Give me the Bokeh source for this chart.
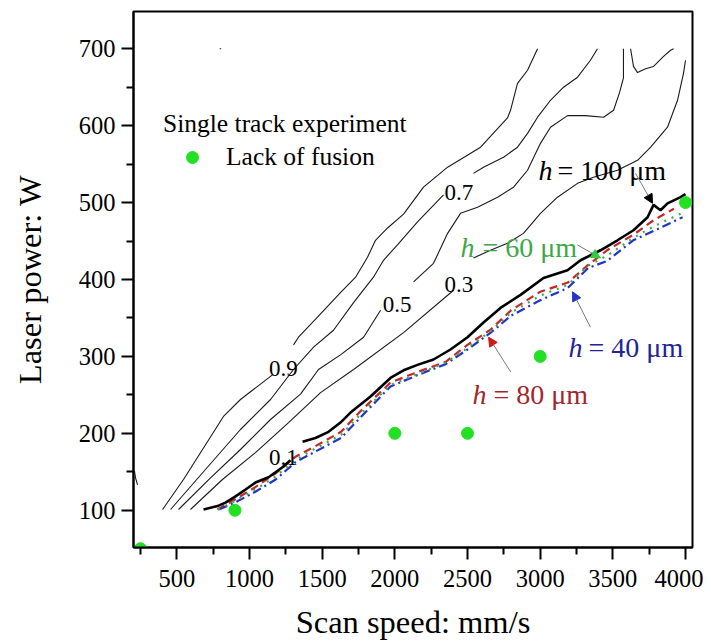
import math
from bokeh.plotting import figure
from bokeh.models import (Range1d, Legend, LegendItem, Arrow, NormalHead,
                          FixedTicker, ColumnDataSource)
from bokeh.core.properties import value
from bokeh.embed import file_html
from bokeh.resources import INLINE

NaN = float("nan")
FONT = "Liberation Serif"

# ---------------- data ----------------
# single-track experiments: lack of fusion
lof_speed = [250, 900, 2000, 2500, 3000, 4000]
lof_power = [50, 100, 200, 200, 300, 500]

# thin contour lines (value labels 0.9, 0.7, 0.5, 0.3)
c09_speed = [402, 546, 821, 938, 1158, NaN, 1303, 1337, 1468, 1626, 1730, 1812, 1867,
             1950, 2060, 2197, 2363, 2590, 2775, 2796, 2844, 2913, 2982]
c09_power = [101, 140, 222, 244, 276, NaN, 315, 325, 351, 383, 403, 429, 451,
             467, 485, 520, 546, 572, 610, 620, 655, 672, 700]

c07_speed = [457, 697, 938, 1145, 1303, 1441, 1578, 1716, 1853, 1922, 2018, 2156, 2335,
             NaN, 2541, 2610, 2748, 2844, 2913, 2982, 3071, 3161, 3257, 3346, 3394]
c07_power = [101, 153, 205, 244, 283, 312, 334, 370, 403, 425, 445, 475, 510,
             NaN, 538, 546, 559, 572, 590, 611, 633, 650, 663, 685, 700]

c05_speed = [512, 732, 938, 1145, 1351, 1475, 1626, 1785, 1902, NaN, 2129, 2266, 2363,
             2452, 2569, 2707, 2817, 2913, 3002, 3071, 3188, 3312, 3436, 3505, 3546,
             3573, 3573]
c05_power = [101, 142, 179, 218, 251, 283, 302, 325, 360, NaN, 397, 421, 460,
             486, 494, 507, 520, 542, 577, 598, 613, 613, 611, 620, 643,
             662, 700]

c03_speed = [594, 814, 1041, 1269, 1489, 1716, 2060, 2404, NaN, 2541, 2658, 2775, 2885,
             3002, 3119, 3257, 3367, 3532, 3670, 3760, 3876, 3945, 3986, 4000]
c03_power = [101, 140, 175, 214, 253, 283, 331, 386, NaN, 428, 438, 447, 460,
             486, 507, 525, 533, 542, 555, 572, 598, 633, 668, 685]

# isolated contour pieces
cx1_speed = [3622, 3642, 3670, 3725, 3780, 3849, 3897, 3918]
cx1_power = [700, 677, 669, 674, 677, 690, 698, 700]
cx2_speed = [230, 216, 209]
cx2_power = [133, 142, 151]
cx3_speed = [795, 805]
cx3_power = [700, 700]

# process-window boundaries for hatch spacing h
h100_speed = [684, 787, 835, 904, 973, 1041, 1131, 1227, 1282, NaN, 1365, 1454, 1544,
              1626, 1695, 1833, 1970, 2060, 2156, 2266, 2383, 2500, 2610, 2727, 2865,
              3023, 3188, 3278, 3415, 3532, 3642, 3739, 3780, 3828, 3876, 3966, 4000]
h100_power = [101, 106, 110, 118, 127, 136, 143, 156, 165, NaN, 189, 194, 202,
              214, 227, 248, 272, 282, 289, 296, 309, 325, 344, 363, 380,
              402, 412, 425, 438, 451, 464, 481, 497, 490, 499, 507, 511]

h80_speed = [780, 900, 1040, 1180, 1320, 1450, 1630, 1760, 1970, 2160, 2350, 2500,
             2660, 2800, 3000, 3190, 3330, 3460, 3640, 3780, 3920]
h80_power = [101, 114, 130, 148, 170, 183, 202, 228, 266, 280, 293, 315,
             335, 360, 384, 396, 419, 438, 458, 477, 492]

h60_speed = [785, 900, 1040, 1180, 1320, 1450, 1630, 1760, 1970, 2160, 2350, 2500,
             2660, 2800, 3000, 3190, 3330, 3460, 3640, 3780, 3970]
h60_power = [101, 112, 127, 144, 166, 180, 198, 224, 263, 277, 292, 311,
             333, 357, 379, 393, 418, 431, 454, 469, 486]

h40_speed = [790, 900, 1040, 1180, 1320, 1450, 1630, 1760, 1970, 2160, 2350, 2500,
             2660, 2800, 3000, 3190, 3330, 3460, 3640, 3780, 3980]
h40_power = [101, 110, 124, 140, 163, 176, 194, 220, 261, 276, 290, 309,
             331, 353, 373, 389, 415, 424, 451, 463, 481]

# contour value labels
lvl_text = ["0.9", "0.7", "0.5", "0.3", "0.1"]
lvl_speed = [1234, 2441, 2016, 2441, 1233]
lvl_power = [284, 513, 368, 394, 168]

# hatch-spacing annotations
ann_rest = ["= 100 μm", "= 60 μm", "= 40 μm", "= 80 μm"]
ann_h_speed = [2989, 2452, 3195, 2535]
ann_rest_speed = [3119, 2603, 3333, 2679]
ann_power = [542, 441, 312, 250]
ann_color = ["black", "#3da848", "#22229a", "#a3262a"]
arr_x0 = [3656, 3256, 3346, 2797]
arr_y0 = [538, 445, 338, 280]
arr_x1 = [3773, 3415, 3223, 2645]
arr_y1 = [499, 428, 384, 325]
arr_head = ["black", "#2ecc40", "#2233cc", "#d01818"]

x_ticks = [500, 1000, 1500, 2000, 2500, 3000, 3500, 4000]
x_minor = [250, 750, 1250, 1750, 2250, 2750, 3250, 3750]
y_ticks = [100, 200, 300, 400, 500, 600, 700]
y_minor = [150, 250, 350, 450, 550, 650]

# ---------------- figure ----------------
p = figure(width=703, height=642, x_range=Range1d(202, 4048), y_range=Range1d(51.6, 748.4),
           output_backend="svg", toolbar_location=None,
           min_border_left=133, min_border_right=11, min_border_top=11, min_border_bottom=94)
p.xgrid.visible = False
p.ygrid.visible = False
p.outline_line_color = "black"
p.outline_line_width = 2
p.outline_line_alpha = 1.0
p.background_fill_color = "white"
p.border_fill_color = "white"

for ax, ticks, minor in ((p.xaxis[0], x_ticks, x_minor), (p.yaxis[0], y_ticks, y_minor)):
    ax.ticker = FixedTicker(ticks=ticks, minor_ticks=minor)
    ax.axis_line_width = 2
    ax.axis_line_color = "black"
    ax.major_tick_line_width = 2
    ax.minor_tick_line_width = 2
    ax.major_tick_line_color = "black"
    ax.minor_tick_line_color = "black"
    ax.major_tick_out = 12
    ax.major_tick_in = 0
    ax.minor_tick_out = 7
    ax.minor_tick_in = 0
    ax.major_label_text_font = FONT
    ax.major_label_text_font_size = "24.5px"
    ax.major_label_text_color = "black"
    ax.axis_label_text_font = FONT
    ax.axis_label_text_font_style = "normal"
    ax.axis_label_text_color = "black"
    ax.axis_label_text_font_size = "32.5px"

p.xaxis.axis_label = "Scan speed: mm/s"
p.yaxis.axis_label = "Laser power: W"
p.xaxis.major_label_standoff = 10
p.xaxis.axis_label_standoff = 14
p.yaxis.major_label_standoff = 6
p.yaxis.axis_label_standoff = 28

thin = dict(line_color="#1a1a1a", line_width=1.1)
for xs, ys in ((c09_speed, c09_power), (c07_speed, c07_power), (c05_speed, c05_power),
               (c03_speed, c03_power), (cx1_speed, cx1_power), (cx2_speed, cx2_power),
               (cx3_speed, cx3_power)):
    p.line(xs, ys, **thin)

p.line(h80_speed, h80_power, line_color="#c62828", line_width=2.2, line_dash="8 5")
p.line(h40_speed, h40_power, line_color="#2233cc", line_width=2.2, line_dash="9 4 2 4")
p.line(h60_speed, h60_power, line_color="#35b045", line_width=2.2, line_dash="2 6")
p.line(h100_speed, h100_power, line_color="black", line_width=2.6)

p.text(x=lvl_speed, y=lvl_power, text=lvl_text, text_font=value(FONT),
       text_font_size="23px", text_align="center", text_baseline="alphabetic",
       text_color="black")

src = ColumnDataSource(dict(hx=ann_h_speed, rx=ann_rest_speed, y=ann_power,
                            t=ann_rest, c=ann_color, hh=["h"] * len(ann_rest)))
p.text(x="hx", y="y", text="hh", source=src, text_font=value(FONT),
       text_font_style="italic", text_font_size="28px", text_align="left",
       text_baseline="alphabetic", text_color="c")
p.text(x="rx", y="y", text="t", source=src, text_font=value(FONT),
       text_font_size="28px", text_align="left", text_baseline="alphabetic",
       text_color="c")

for i in range(len(arr_x0)):
    p.add_layout(Arrow(x_start=arr_x0[i], y_start=arr_y0[i], x_end=arr_x1[i], y_end=arr_y1[i],
                       line_color="#7a7a7a", line_width=1,
                       end=NormalHead(size=9, fill_color=arr_head[i], line_color=arr_head[i])))

sc = p.scatter(lof_speed, lof_power, size=12, fill_color="#22e022", line_color="#22e022")

legend = Legend(items=[LegendItem(label="Lack of fusion", renderers=[sc])],
                title="Single track experiment", location=(30, 375),
                title_text_font=FONT, title_text_font_size="25.5px",
                title_text_font_style="normal", title_text_color="black",
                label_text_font=FONT, label_text_font_size="25.5px", label_text_color="black",
                glyph_width=58, glyph_height=30, label_standoff=5, padding=0, margin=0,
                title_standoff=3, border_line_color=None, background_fill_alpha=0)
p.add_layout(legend)

open("out.html", "w").write(file_html(p, INLINE, "plot"))
